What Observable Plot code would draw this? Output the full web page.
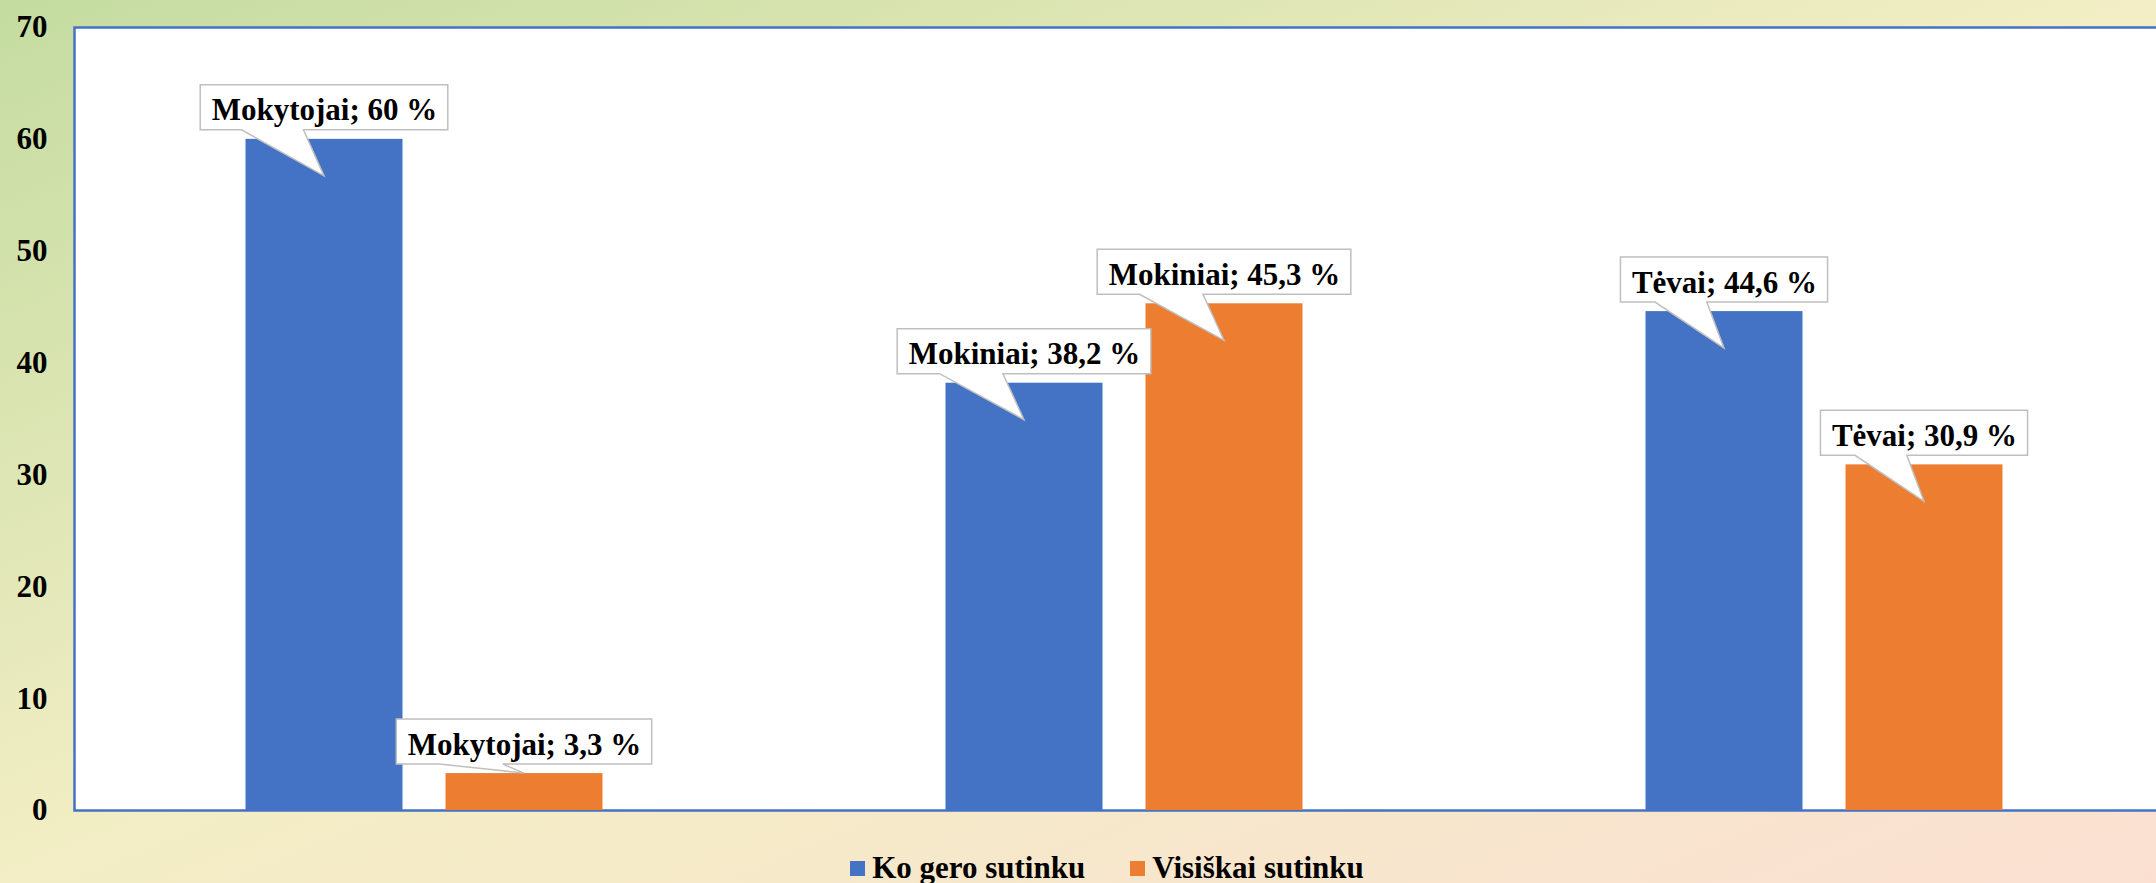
<!DOCTYPE html>
<html><head><meta charset="utf-8">
<script src="https://cdn.jsdelivr.net/npm/d3@7"></script>
<script src="https://cdn.jsdelivr.net/npm/@observablehq/plot@0.6"></script>
<style>
html,body{margin:0;padding:0;width:2156px;height:883px;overflow:hidden;}
body{background:linear-gradient(to bottom right,#c4dca0 0%,#f3eec5 50%,#fbe0d2 100%);font-family:"Liberation Serif",serif;}
#chart{height:835px;}
#legend{display:flex;justify-content:center;align-items:center;gap:45px;font-weight:bold;font-size:31px;padding-left:58px;padding-top:15px;height:36px;line-height:36px;color:#000;}
.item{display:flex;align-items:center;gap:7px;}
.sw{width:15px;height:15px;display:inline-block;}
</style></head><body>
<div id="chart"></div><div id="legend"></div>
<script>
const groups = ["Mokytojai", "Mokiniai", "Tėvai"];
const seriesNames = ["Ko gero sutinku", "Visiškai sutinku"];
const koGeroSutinku = [60, 38.2, 44.6];
const visiskaiSutinku = [3.3, 45.3, 30.9];
const yTicks = [0, 10, 20, 30, 40, 50, 60, 70];
const colors = ["#4472c4", "#ed7d31"];

const fmt = v => `${String(v).replace(".", ",")} %`;
const rows = vals => groups.map((g, i) => ({group: g, value: vals[i], label: `${g}; ${fmt(vals[i])}`}));
const blue = rows(koGeroSutinku), orange = rows(visiskaiSutinku);

const plot = Plot.plot({
  width: 2200, height: 835,
  marginLeft: 74, marginRight: 26, marginTop: 27, marginBottom: 25,
  style: {background: "transparent", maxWidth: "none", fontFamily: "Liberation Serif", fontSize: "31px", fontWeight: "bold", color: "black", overflow: "visible"},
  x: {domain: groups, padding: 0, axis: null},
  y: {domain: [0, 70], ticks: yTicks, tickSize: 0, tickPadding: 27, label: null},
  marks: [
    Plot.frame({fill: "white", stroke: "#4472c4", strokeWidth: 2.5}),
    Plot.barY(blue, {x: "group", y: "value", fill: colors[0], insetLeft: 171.5, insetRight: 371.5}),
    Plot.barY(orange, {x: "group", y: "value", fill: colors[1], insetLeft: 371.5, insetRight: 171.5}),
    Plot.text(blue, {x: "group", y: "value", text: "label", dx: -100, dy: -19, lineAnchor: "bottom", fill: "black"}),
    Plot.text(orange, {x: "group", y: "value", text: "label", dx: 100, dy: -19, lineAnchor: "bottom", fill: "black"})
  ]
});
document.getElementById("chart").append(plot);

// callout boxes behind labels
const svgns = "http://www.w3.org/2000/svg";
const barRects = plot.querySelectorAll('g[aria-label="bar"] rect');
const texts = plot.querySelectorAll('g[aria-label="text"] text');
const firstTextG = plot.querySelector('g[aria-label="text"]');
const cg = document.createElementNS(svgns, "g");
firstTextG.parentNode.insertBefore(cg, firstTextG);
texts.forEach((t, i) => {
  const r = barRects[i];
  const x = +r.getAttribute("x"), y = +r.getAttribute("y"), w = +r.getAttribute("width"), h = +r.getAttribute("height");
  const cx = x + w / 2;
  const bb = t.getBBox();
  const bw = bb.width + 22, bh = 45;
  const bottom = y - 9, top = bottom - bh, left = cx - bw / 2, right = cx + bw / 2;
  const tipY = h > 74 ? y + 37 : y;
  const p = document.createElementNS(svgns, "path");
  p.setAttribute("d", `M${left},${top}H${right}V${bottom}H${left + 0.417 * bw}L${cx},${tipY}L${left + 0.167 * bw},${bottom}H${left}Z`);
  p.setAttribute("fill", "white");
  p.setAttribute("stroke", "#bfbfbf");
  p.setAttribute("stroke-width", "1.5");
  cg.appendChild(p);
});

const legend = document.getElementById("legend");
seriesNames.forEach((s, i) => {
  const it = document.createElement("div");
  it.className = "item";
  it.innerHTML = `<span class="sw" style="background:${colors[i]}"></span><span>${s}</span>`;
  legend.appendChild(it);
});
</script>
</body></html>
